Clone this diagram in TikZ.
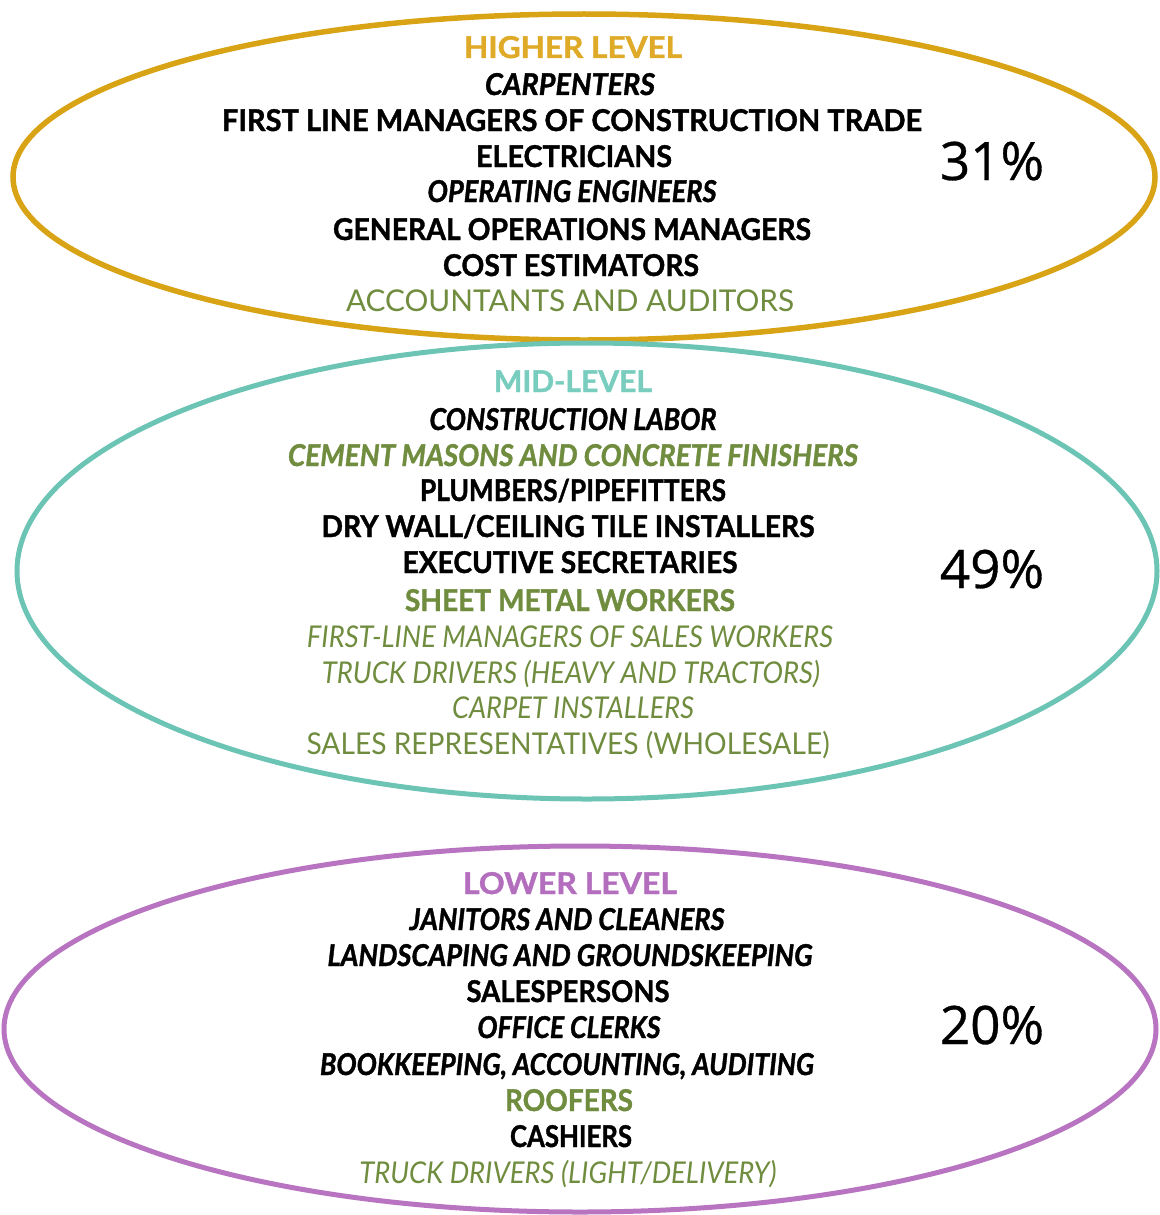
\documentclass[tikz,border=0pt]{standalone}
\usepackage{fontspec}
\usepackage{graphicx}
\setmainfont{Lato}
\newfontfamily\hv[UprightFont={* Bold}, ItalicFont={* Bold Italic}, FakeBold=1.3]{Lato}
\newfontfamily\pctfont[FakeBold=0.6]{Open Sans}
\usetikzlibrary{shapes.geometric}
\definecolor{goldc}{RGB}{217,163,22}
\definecolor{tealc}{RGB}{108,196,180}
\definecolor{purpc}{RGB}{184,116,192}
\definecolor{greent}{RGB}{112,140,62}
\definecolor{goldt}{RGB}{222,170,40}
\definecolor{tealt}{RGB}{120,205,190}
\definecolor{purpt}{RGB}{180,110,190}
\newcommand{\fitw}[2]{\resizebox{#1pt}{\height}{#2}}
\tikzset{
  ring/.style={ellipse, draw, line width=5pt, inner sep=0pt},
  txt/.style={anchor=base, inner sep=0pt},
  bk/.style={txt, text=black, font=\fontsize{30}{36}\hv},
  bki/.style={txt, text=black, font=\fontsize{30}{36}\hv\itshape},
  gb/.style={txt, text=greent, font=\fontsize{30}{36}\hv},
  gbi/.style={txt, text=greent, font=\fontsize{30}{36}\hv\itshape},
  gi/.style={txt, text=greent, font=\fontsize{30}{36}\selectfont\itshape},
  gr/.style={txt, text=greent, font=\fontsize{30}{36}\selectfont},
  head/.style={txt, font=\fontsize{30}{36}\hv},
  pct/.style={txt, text=black, font=\fontsize{53}{60}\pctfont}
}
\begin{document}
\begin{tikzpicture}[x=1pt, y=-1pt]
\useasboundingbox (0,0) rectangle (1159,1215);
% ellipses
\node[ring, draw=goldc, line width=5.5pt, minimum width=1142pt, minimum height=326pt] (topring) at (584,177) {};
\node[ring, draw=tealc, minimum width=1140pt, minimum height=456pt] (midring) at (587,571) {};
\node[ring, draw=purpc, minimum width=1152pt, minimum height=366pt] (botring) at (580,1029) {};
% higher level
\node[head, text=goldt] (h0) at (573,58) {\fitw{218}{HIGHER LEVEL}};
\node[bki] (h1) at (570,95) {\fitw{170}{CARPENTERS}};
\node[bk] (h2) at (572,131) {\fitw{700}{FIRST LINE MANAGERS OF CONSTRUCTION TRADE}};
\node[bk] (h3) at (574,167) {\fitw{196}{ELECTRICIANS}};
\node[bki] (h4) at (572,202) {\fitw{289}{OPERATING ENGINEERS}};
\node[bk] (h5) at (572,240) {\fitw{478}{GENERAL OPERATIONS MANAGERS}};
\node[bk] (h6) at (571,276) {\fitw{256}{COST ESTIMATORS}};
\node[gr] (h7) at (570,311) {\fitw{448}{ACCOUNTANTS AND AUDITORS}};
\node[pct] (p1) at (992,180) {31\%};
% mid level
\node[head, text=tealt] (m0) at (573,392) {\fitw{158}{MID-LEVEL}};
\node[bki] (m1) at (573,430) {\fitw{287}{CONSTRUCTION LABOR}};
\node[gbi] (m2) at (573,466) {\fitw{570}{CEMENT MASONS AND CONCRETE FINISHERS}};
\node[bk] (m3) at (573,501) {\fitw{306}{PLUMBERS/PIPEFITTERS}};
\node[bk] (m4) at (568,537) {\fitw{493}{DRY WALL/CEILING TILE INSTALLERS}};
\node[bk] (m5) at (570,573) {\fitw{335}{EXECUTIVE SECRETARIES}};
\node[gb] (m6) at (570,611) {\fitw{330}{SHEET METAL WORKERS}};
\node[gi] (m7) at (570,647) {\fitw{526}{FIRST-LINE MANAGERS OF SALES WORKERS}};
\node[gi] (m8) at (571,683) {\fitw{498}{TRUCK DRIVERS (HEAVY AND TRACTORS)}};
\node[gi] (m9) at (573,718) {\fitw{242}{CARPET INSTALLERS}};
\node[gr] (m10) at (568,754) {\fitw{523}{SALES REPRESENTATIVES (WHOLESALE)}};
\node[pct] (p2) at (992,588) {49\%};
% lower level
\node[head, text=purpt] (l0) at (570,894) {\fitw{214}{LOWER LEVEL}};
\node[bki] (l1) at (567,930) {\fitw{315}{JANITORS AND CLEANERS}};
\node[bki] (l2) at (570,966) {\fitw{485}{LANDSCAPING AND GROUNDSKEEPING}};
\node[bk] (l3) at (568,1002) {\fitw{203}{SALESPERSONS}};
\node[bki] (l4) at (569,1038) {\fitw{183}{OFFICE CLERKS}};
\node[bki] (l5) at (567,1075) {\fitw{494}{BOOKKEEPING, ACCOUNTING, AUDITING}};
\node[gb] (l6) at (569,1111) {\fitw{128}{ROOFERS}};
\node[bk] (l7) at (571,1147) {\fitw{122}{CASHIERS}};
\node[gi] (l8) at (568,1183) {\fitw{417}{TRUCK DRIVERS (LIGHT/DELIVERY)}};
\node[pct] (p3) at (992,1044) {20\%};
\end{tikzpicture}
\end{document}
